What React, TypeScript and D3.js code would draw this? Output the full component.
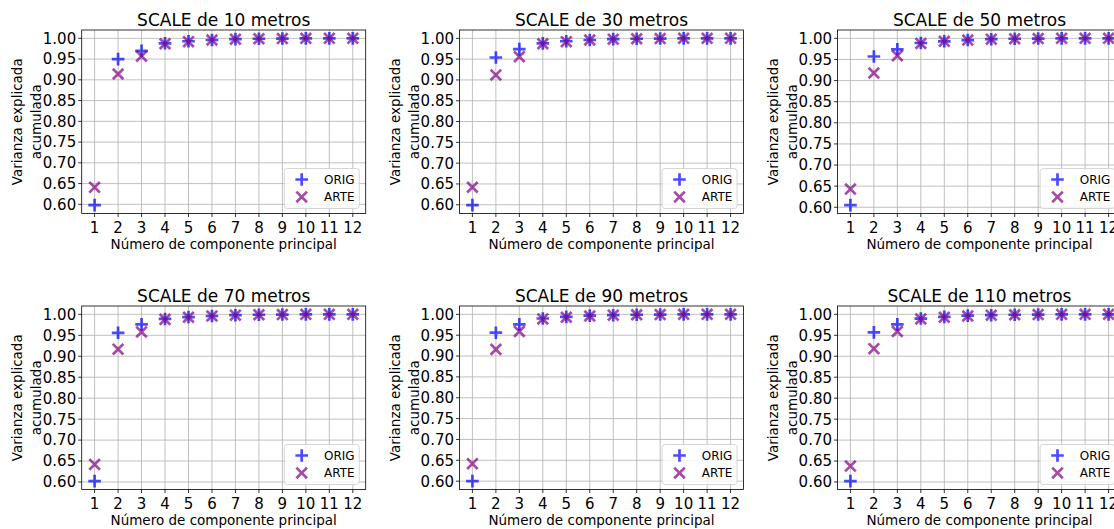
import React from "react";
import * as d3 from "d3";

// Principal-component index on the x axis
const componentes = [1, 2, 3, 4, 5, 6, 7, 8, 9, 10, 11, 12];
const yTicks = [0.6, 0.65, 0.7, 0.75, 0.8, 0.85, 0.9, 0.95, 1.0];
const escalas = [10, 30, 50, 70, 90, 110];

// Cumulative explained variance per scale
const orig10 = [0.598, 0.95, 0.97, 0.988, 0.993, 0.996, 0.998, 0.999, 0.9995, 1.0, 1.0, 1.0];
const arte10 = [0.641, 0.914, 0.957, 0.987, 0.992, 0.996, 0.998, 0.999, 0.9995, 1.0, 1.0, 1.0];
const orig30 = [0.599, 0.954, 0.974, 0.988, 0.993, 0.996, 0.998, 0.999, 0.9995, 1.0, 1.0, 1.0];
const arte30 = [0.642, 0.912, 0.956, 0.987, 0.992, 0.996, 0.998, 0.999, 0.9995, 1.0, 1.0, 1.0];
const orig50 = [0.605, 0.957, 0.974, 0.989, 0.993, 0.996, 0.998, 0.999, 0.9995, 1.0, 1.0, 1.0];
const arte50 = [0.643, 0.918, 0.959, 0.988, 0.993, 0.996, 0.998, 0.999, 0.9995, 1.0, 1.0, 1.0];
const orig70 = [0.602, 0.956, 0.976, 0.989, 0.9935, 0.996, 0.998, 0.999, 0.9995, 1.0, 1.0, 1.0];
const arte70 = [0.642, 0.917, 0.958, 0.988, 0.993, 0.996, 0.998, 0.999, 0.9995, 1.0, 1.0, 1.0];
const orig90 = [0.6, 0.956, 0.976, 0.99, 0.994, 0.997, 0.998, 0.999, 0.9995, 1.0, 1.0, 1.0];
const arte90 = [0.642, 0.916, 0.959, 0.989, 0.993, 0.996, 0.998, 0.999, 0.9995, 1.0, 1.0, 1.0];
const orig110 = [0.602, 0.957, 0.976, 0.99, 0.994, 0.997, 0.998, 0.999, 0.9995, 1.0, 1.0, 1.0];
const arte110 = [0.638, 0.918, 0.959, 0.989, 0.993, 0.996, 0.998, 0.999, 0.9995, 1.0, 1.0, 1.0];

const origSeries = [orig10, orig30, orig50, orig70, orig90, orig110];
const arteSeries = [arte10, arte30, arte50, arte70, arte90, arte110];

const FONT = "DejaVu Sans, sans-serif";
const W = 1114;
const H = 529;
const colLeft = [81.7, 459.5, 837.5];
const rowTop = [30, 306];
const AW = 284;
const AH = 183.5;

const ORIG_COLOR = "#0000ff";
const ARTE_COLOR = "#800080";

function Plus({ x, y, color }: { x: number; y: number; color: string }) {
  const s = 6.3;
  return (
    <path
      d={`M${x - s},${y}H${x + s}M${x},${y - s}V${y + s}`}
      stroke={color}
      strokeWidth={2.7}
      strokeOpacity={0.7}
      fill="none"
    />
  );
}

function Cross({ x, y, color }: { x: number; y: number; color: string }) {
  const s = 5.3;
  return (
    <path
      d={`M${x - s},${y - s}L${x + s},${y + s}M${x - s},${y + s}L${x + s},${y - s}`}
      stroke={color}
      strokeWidth={2.7}
      strokeOpacity={0.7}
      fill="none"
    />
  );
}

function Panel({ idx }: { idx: number }) {
  const left = colLeft[idx % 3];
  const top = rowTop[Math.floor(idx / 3)];
  const orig = origSeries[idx];
  const arte = arteSeries[idx];

  const all = orig.concat(arte);
  const lo = d3.min(all) as number;
  const hi = d3.max(all) as number;
  const m = (hi - lo) * 0.05;
  const y = d3.scaleLinear().domain([lo - m, hi + m]).range([top + AH, top]);
  const x = d3.scaleLinear().domain([0.45, 12.55]).range([left, left + AW]);
  const bottom = top + AH;
  const cx = left + AW / 2;
  const cy = top + AH / 2;

  const legL = left + AW - 6.4 - 75;
  const legT = bottom - 5 - 40;

  return (
    <g>
      <text x={cx} y={top - 4.5} textAnchor="middle" fontSize={17} fontFamily={FONT} fill="#000">
        {`SCALE de ${escalas[idx]} metros`}
      </text>
      {/* grid */}
      {componentes.map((c) => (
        <line key={"gx" + c} x1={x(c)} x2={x(c)} y1={top} y2={bottom} stroke="#b0b0b0" strokeWidth={0.8} />
      ))}
      {yTicks.map((t) => (
        <line key={"gy" + t} x1={left} x2={left + AW} y1={y(t)} y2={y(t)} stroke="#b0b0b0" strokeWidth={0.8} />
      ))}
      {/* markers */}
      {orig.map((v, i) => (
        <Plus key={"o" + i} x={x(componentes[i])} y={y(v)} color={ORIG_COLOR} />
      ))}
      {arte.map((v, i) => (
        <Cross key={"a" + i} x={x(componentes[i])} y={y(v)} color={ARTE_COLOR} />
      ))}
      {/* spines */}
      <rect x={left} y={top} width={AW} height={AH} fill="none" stroke="#000" strokeWidth={0.8} />
      {/* x ticks */}
      {componentes.map((c) => (
        <g key={"xt" + c}>
          <line x1={x(c)} x2={x(c)} y1={bottom} y2={bottom + 3.5} stroke="#000" strokeWidth={0.8} />
          <text x={x(c)} y={bottom + 19} textAnchor="middle" fontSize={15} fontFamily={FONT} fill="#000">
            {c}
          </text>
        </g>
      ))}
      {/* y ticks */}
      {yTicks.map((t) => (
        <g key={"yt" + t}>
          <line x1={left - 3.5} x2={left} y1={y(t)} y2={y(t)} stroke="#000" strokeWidth={0.8} />
          <text x={left - 5.5} y={y(t) + 5.4} textAnchor="end" fontSize={15} fontFamily={FONT} fill="#000">
            {t.toFixed(2)}
          </text>
        </g>
      ))}
      <text x={cx} y={bottom + 35.5} textAnchor="middle" fontSize={13.5} fontFamily={FONT} fill="#000">
        Número de componente principal
      </text>
      <g transform={`translate(${left - 60},${cy}) rotate(-90)`}>
        <text x={0} y={0} textAnchor="middle" fontSize={13.5} fontFamily={FONT} fill="#000">
          Varianza explicada
        </text>
        <text x={0} y={19} textAnchor="middle" fontSize={13.5} fontFamily={FONT} fill="#000">
          acumulada
        </text>
      </g>
      {/* legend */}
      <rect x={legL} y={legT} width={75} height={40} rx={3} fill="#fff" fillOpacity={0.8} stroke="#cccccc" strokeWidth={0.8} />
      <Plus x={legL + 17.4} y={legT + 11} color={ORIG_COLOR} />
      <Cross x={legL + 17.4} y={legT + 28.4} color={ARTE_COLOR} />
      <text x={legL + 39.7} y={legT + 11 + 4.3} fontSize={12} fontFamily={FONT} fill="#000">
        ORIG
      </text>
      <text x={legL + 39.7} y={legT + 28.4 + 4.3} fontSize={12} fontFamily={FONT} fill="#000">
        ARTE
      </text>
    </g>
  );
}

export default function App() {
  return (
    <svg
      width={W}
      height={H}
      style={{ position: "absolute", left: 0, top: 0, background: "#fff" }}
    >
      <rect x={0} y={0} width={W} height={H} fill="#fff" />
      {escalas.map((_, i) => (
        <Panel key={i} idx={i} />
      ))}
    </svg>
  );
}
